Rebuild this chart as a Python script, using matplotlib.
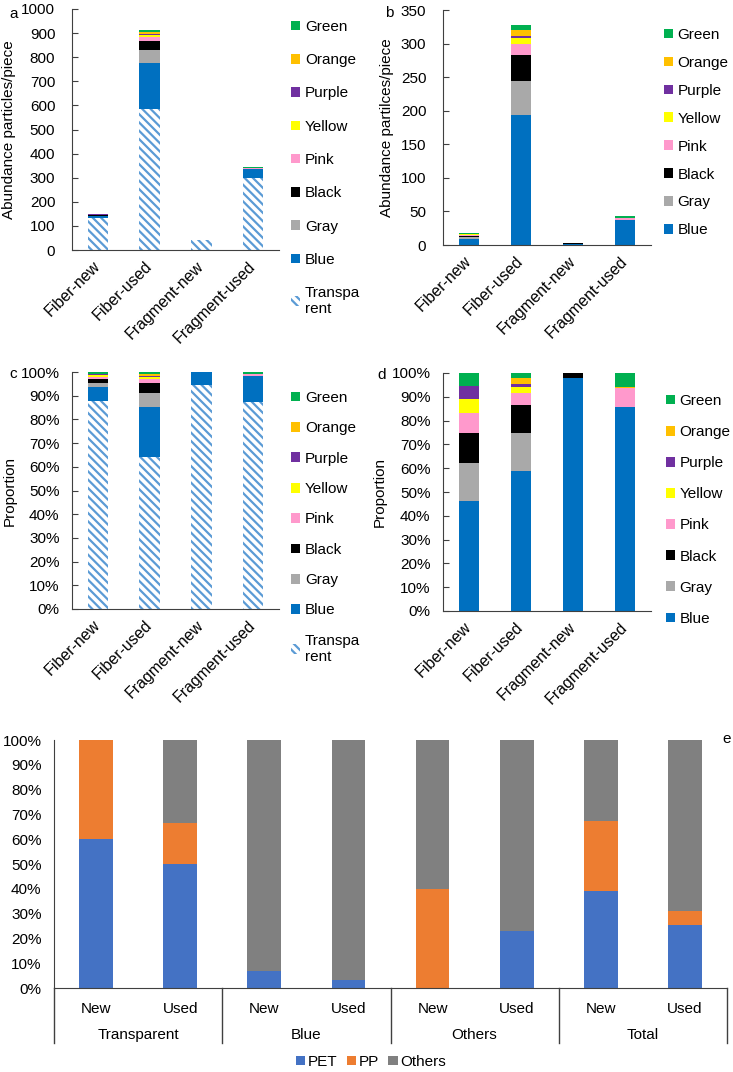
import matplotlib
matplotlib.use("Agg")
import numpy as np
import matplotlib.pyplot as plt
from matplotlib.patches import Patch
from matplotlib.ticker import PercentFormatter

plt.rcParams['font.family'] = ['Liberation Sans', 'DejaVu Sans']
plt.rcParams['font.size'] = 11
plt.rcParams['hatch.linewidth'] = 1.6

# panels a-d: abundance of each colour (particles/piece)
categories = ["Fiber-new", "Fiber-used", "Fragment-new", "Fragment-used"]
transparent = [131, 585, 40, 300]
blue = [8.3, 193, 2.2, 37]
gray = [2.9, 52, 0, 0]
black = [2.3, 38, 0.05, 0]
pink = [1.5, 17, 0, 3.5]
yellow = [1.0, 8, 0, 0]
purple = [1.0, 4, 0, 0]
orange = [0, 8, 0, 0.1]
green = [1.0, 7, 0, 2.6]

color_names = ["Blue", "Gray", "Black", "Pink", "Yellow", "Purple", "Orange", "Green"]
color_values = [blue, gray, black, pink, yellow, purple, orange, green]
color_codes = ["#0070C0", "#A9A9A9", "#000000", "#FF99CC", "#FFFF00", "#7030A0", "#FFC000", "#00B050"]
hatch_color = "#5B9BD5"

# panel e: polymer share (%)
groups = ["Transparent", "Blue", "Others", "Total"]
conditions = ["New", "Used"]
pet = [60, 50, 6.7, 3.2, 0, 23, 39, 25.5]
pp = [40, 16.7, 0, 0, 40, 0, 28.5, 5.5]
others = [0, 33.3, 93.3, 96.8, 60, 77, 32.5, 69]

W, H = 733, 1072
fig = plt.figure(figsize=(W / 100, H / 100), dpi=100)
axis_col = "#404040"


def px_rect(left, top, right, bottom):
    return [left / W, 1 - bottom / H, (right - left) / W, (bottom - top) / H]


def draw_panel(rect, with_transparent, proportion, ymax, ystep, ylabel, label_x,
               leg_xy, leg_space, letter, letter_xy):
    ax = fig.add_axes(px_rect(*rect))
    x = np.arange(len(categories))
    series = [np.array(v, dtype=float) for v in color_values]
    trans = np.array(transparent, dtype=float)
    total = sum(series) + (trans if with_transparent else 0)
    scale = total if proportion else np.ones_like(total)
    bottom = np.zeros(len(categories))
    handles = []
    if with_transparent:
        ax.bar(x, trans / scale, 0.4, bottom=bottom, color="white",
               edgecolor=hatch_color, hatch="\\\\\\\\", linewidth=0)
        bottom = bottom + trans / scale
        handles.append(Patch(facecolor="white", edgecolor=hatch_color,
                             hatch="\\\\\\\\", linewidth=0, label="Transpa\nrent"))
    for name, vals, col in zip(color_names, series, color_codes):
        ax.bar(x, vals / scale, 0.4, bottom=bottom, color=col, linewidth=0)
        bottom = bottom + vals / scale
        handles.append(Patch(facecolor=col, linewidth=0, label=name))

    ax.set_xlim(-0.5, len(categories) - 0.5)
    ax.set_ylim(0, ymax)
    ax.set_yticks(np.arange(0, ymax + ystep / 2, ystep))
    if proportion:
        ax.yaxis.set_major_formatter(PercentFormatter(1.0, decimals=0))
        pad = 9
    else:
        pad = 12
    ax.set_xticks(x)
    ax.set_xticklabels(categories, rotation=45, ha="right", va="center",
                       rotation_mode="anchor", fontsize=11.5)
    ax.tick_params(axis="x", length=0, pad=10)
    ax.tick_params(axis="y", direction="in", length=4, color=axis_col, pad=pad)
    for s in ["top", "right"]:
        ax.spines[s].set_visible(False)
    for s in ["left", "bottom"]:
        ax.spines[s].set_color(axis_col)
    ax.set_ylabel(ylabel, va="center")
    ax.yaxis.set_label_coords(label_x, 0.5)

    ax.legend(handles=handles[::-1], loc="upper left",
              bbox_to_anchor=(leg_xy[0] / W, 1 - leg_xy[1] / H),
              bbox_transform=fig.transFigure, frameon=False, borderpad=0,
              borderaxespad=0, handlelength=0.6, handleheight=0.6,
              handletextpad=0.3, labelspacing=leg_space)
    fig.text(letter_xy[0] / W, 1 - letter_xy[1] / H, letter, ha="center",
             va="baseline")
    return ax


draw_panel((72, 9, 279, 250), True, False, 1000, 100,
           "Abundance particles/piece", -0.304, (291, 20), 1.26, "a", (13.5, 17.5))
draw_panel((443, 10, 651, 245), False, False, 350, 50,
           "Abundance partilces/piece", -0.267, (664, 28), 0.91, "b", (389, 17))
draw_panel((72, 372, 279, 609), True, True, 1.0, 0.1,
           "Proportion", -0.302, (291, 391), 1.07, "c", (13, 378))
draw_panel((443, 373, 651, 611), False, True, 1.0, 0.1,
           "Proportion", -0.303, (666, 394), 1.12, "d", (382, 379))

# panel e
ax = fig.add_axes(px_rect(54, 740, 727, 988))
xe = np.arange(len(pet))
pet_a = np.array(pet)
pp_a = np.array(pp)
oth_a = np.array(others)
ax.bar(xe, pet_a, 0.4, color="#4472C4", linewidth=0, label="PET")
ax.bar(xe, pp_a, 0.4, bottom=pet_a, color="#ED7D31", linewidth=0, label="PP")
ax.bar(xe, oth_a, 0.4, bottom=pet_a + pp_a, color="#808080", linewidth=0, label="Others")
ax.set_xlim(-0.5, len(pet) - 0.5)
ax.set_ylim(0, 100)
ax.set_yticks(np.arange(0, 101, 10))
ax.yaxis.set_major_formatter(PercentFormatter(100, decimals=0))
ax.set_xticks(xe)
ax.set_xticklabels(conditions * len(groups))
ax.tick_params(axis="x", length=0, pad=10)
ax.tick_params(axis="y", length=0, pad=9)
for s in ["top", "right"]:
    ax.spines[s].set_visible(False)
for s in ["left", "bottom"]:
    ax.spines[s].set_color(axis_col)
trans_e = matplotlib.transforms.blended_transform_factory(ax.transData, ax.transAxes)
for b in np.arange(-0.5, len(pet), 2):
    ax.plot([b, b], [0, -0.222], color=axis_col, lw=1, transform=trans_e, clip_on=False)
for i, g in enumerate(groups):
    ax.text(2 * i + 0.5, -0.19, g, ha="center", va="center", transform=trans_e)
ax.legend(loc="center", bbox_to_anchor=(371 / W, 1 - 1062 / H),
          bbox_transform=fig.transFigure, ncol=3, frameon=False, borderpad=0,
          handlelength=0.6, handleheight=0.6, handletextpad=0.2, columnspacing=0.6)
fig.text(727 / W, 1 - 743 / H, "e", ha="center", va="baseline")

fig.savefig("out.png", dpi=100)
